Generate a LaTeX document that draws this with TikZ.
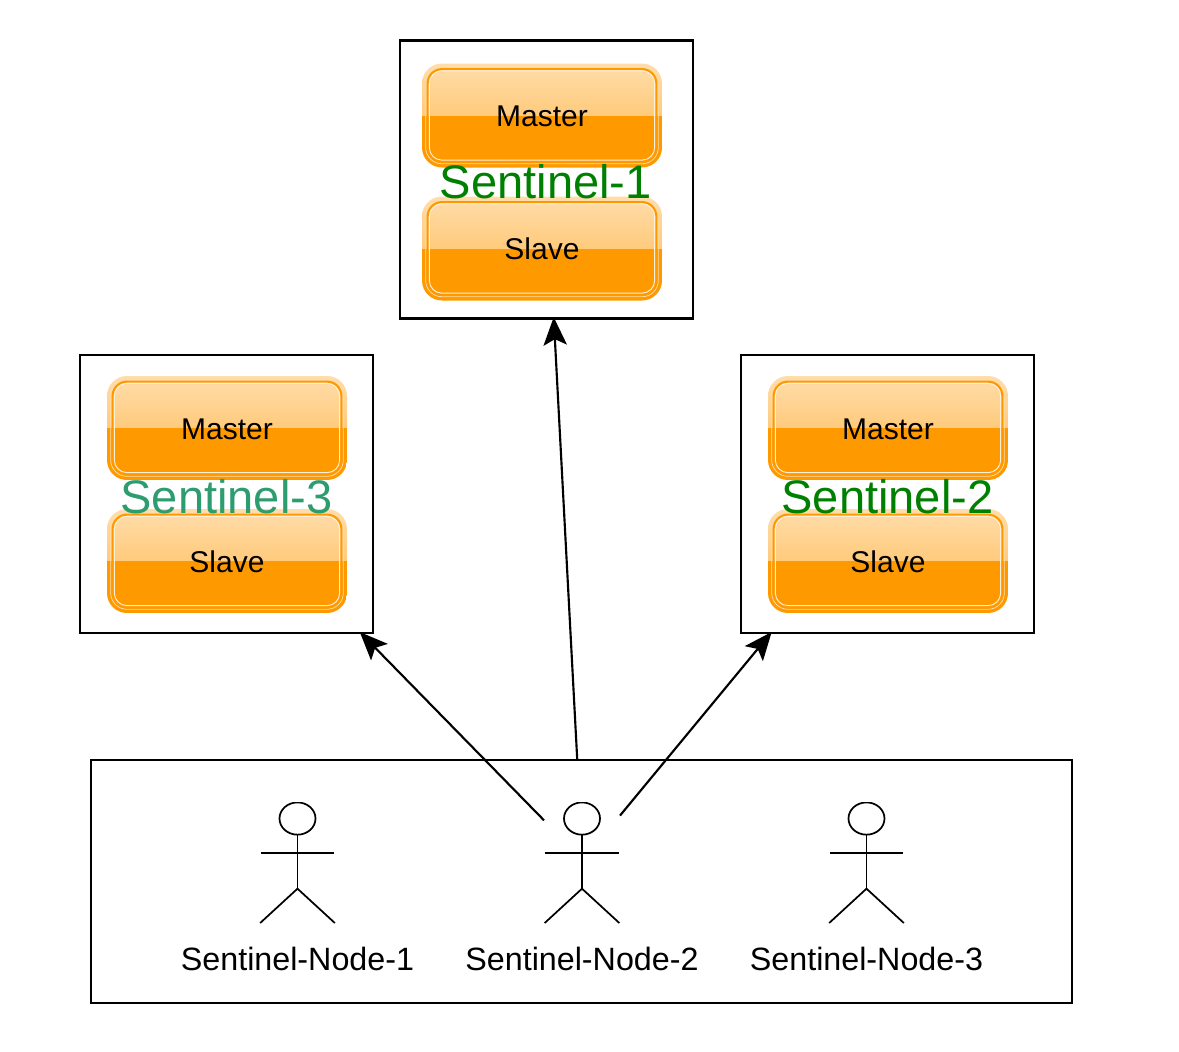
\documentclass[tikz,border=0pt]{standalone}
\usepackage{fontspec}
\setmainfont{Liberation Sans}
\usetikzlibrary{arrows.meta, positioning, calc}
\definecolor{glosstop}{HTML}{FFDDAB}
\definecolor{glossmid}{HTML}{FFB84D}
\definecolor{glossorange}{HTML}{FF9900}
\definecolor{sentinelgreen}{HTML}{008000}
\definecolor{sentinelteal}{HTML}{2D9C6E}

\begin{document}
\begin{tikzpicture}[x=0.75pt,y=-0.75pt,node distance=21.75pt,
    frame/.style={rectangle, draw, line width=1.6pt, minimum width=219.75pt, minimum height=208.5pt, outer sep=0pt},
    gloss/.style={rectangle, rounded corners=15pt, minimum width=180pt, minimum height=78pt, outer sep=0pt, font=\fontsize{22.5pt}{26pt}\selectfont, text height=18pt, text depth=0.8pt,
        path picture={
            \shade[sharp corners, top color=glosstop, bottom color=glossmid] (path picture bounding box.north west) rectangle (path picture bounding box.east);
            \fill[sharp corners, glossorange] (path picture bounding box.west) rectangle (path picture bounding box.south east);
            \draw[glosstop, line width=0.6pt, rounded corners=12.2pt] ($(path picture bounding box.north west)+(2.8pt,-2.8pt)$) rectangle ($(path picture bounding box.south east)+(-2.8pt,2.8pt)$);
            \draw[glossorange, line width=1.6pt, rounded corners=10.8pt] ($(path picture bounding box.north west)+(4.2pt,-4.2pt)$) rectangle ($(path picture bounding box.south east)+(-4.2pt,4.2pt)$);
            \draw[white!85!glossorange, line width=0.7pt, rounded corners=9.5pt] ($(path picture bounding box.north west)+(5.5pt,-5.5pt)$) rectangle ($(path picture bounding box.south east)+(-5.5pt,5.5pt)$);
        }},
    sentinel/.style={font=\fontsize{35.3pt}{40pt}\selectfont, inner sep=0pt, yshift=-2pt},
    actor/.style={rectangle, minimum width=57pt, minimum height=90.75pt, outer sep=0pt,
        path picture={
            \draw[line width=1.3pt] ($(path picture bounding box.north)+(0,-12.4pt)$) ellipse [x radius=13.5pt, y radius=12.1pt];
            \draw[line width=1.3pt] ($(path picture bounding box.north)+(0,-24.6pt)$) -- ($(path picture bounding box.north)+(0,-65pt)$);
            \draw[line width=1.3pt] ($(path picture bounding box.north)+(-27.5pt,-38.2pt)$) -- ($(path picture bounding box.north)+(27.5pt,-38.2pt)$);
            \draw[line width=1.3pt] ($(path picture bounding box.south)+(-28pt,0pt)$) -- ($(path picture bounding box.north)+(0,-65pt)$) -- ($(path picture bounding box.south)+(28pt,0pt)$);
        }},
    nodelabel/.style={font=\fontsize{24.2pt}{28pt}\selectfont},
    flow/.style={-{Stealth[length=21pt, width=17.5pt, inset=4.5pt]}, line width=1.6pt, shorten >=-1pt}]

\useasboundingbox (0,0) rectangle (1179,1051);

% Redis groups
\node[frame] (sentinel1) at (546.5,179.5) {};
\node[frame] (sentinel2) at (887.5,494) {};
\node[frame] (sentinel3) at (226.5,494) {};

% Group 1
\node[gloss] (master1) at (542,115.5) {Master};
\node[gloss, below=of master1] (slave1) {Slave};
\node[sentinel, text=sentinelgreen, xshift=-0.5pt] (name1) at (sentinel1) {Sentinel-1};

% Group 2
\node[gloss] (master2) at (888,428) {Master};
\node[gloss, below=of master2] (slave2) {Slave};
\node[sentinel, text=sentinelgreen] (name2) at (sentinel2) {Sentinel-2};

% Group 3
\node[gloss] (master3) at (227,428) {Master};
\node[gloss, below=of master3] (slave3) {Slave};
\node[sentinel, text=sentinelteal] (name3) at (sentinel3) {Sentinel-3};

% Sentinel nodes
\node[rectangle, draw, line width=1.6pt, minimum width=735.75pt, minimum height=182.25pt, outer sep=0pt] (watchers) at (581.5,881.5) {};
\node[actor] (actor1) at (297.5,862.5) {};
\node[actor] (actor2) at (582,862.5) {};
\node[actor] (actor3) at (866.5,862.5) {};
\node[nodelabel, below=14.6pt of actor1] (label1) {Sentinel-Node-1};
\node[nodelabel, below=14.6pt of actor2] (label2) {Sentinel-Node-2};
\node[nodelabel, below=14.6pt of actor3] (label3) {Sentinel-Node-3};

% Arrows to the groups
\draw[flow] (actor2.132) -- (sentinel3.-46.2);
\draw[flow] (watchers.92.8) -- (sentinel1.-87.7);
\draw[flow] (actor2.51.5) -- (sentinel2.230.3);

\end{tikzpicture}
\end{document}
